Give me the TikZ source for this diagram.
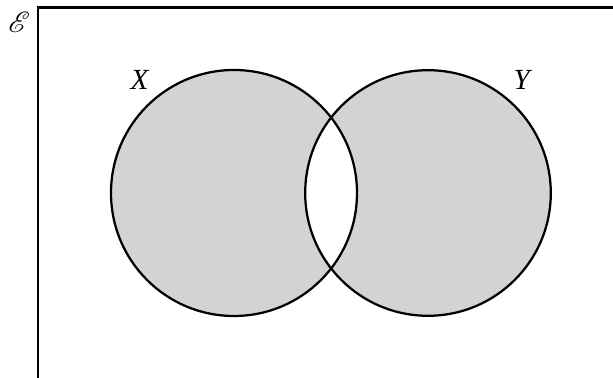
\documentclass[tikz,border=0pt]{standalone}
\usepackage{xcolor}
\usepackage{mathrsfs}
\usepackage{fontspec}
\setmainfont{Liberation Serif}
\usepackage{tikz}
\definecolor{venngray}{RGB}{209,211,212}

\begin{document}
\begin{tikzpicture}
\useasboundingbox (0,0) rectangle (15.325,9.45);
\draw[line width=2pt] (0.95,0) -- (0.95,9.2625) -- (15.325,9.2625);
\fill[fill=venngray, even odd rule] (5.85,4.625) circle (3.075) (10.7,4.625) circle (3.07);
\draw[line width=1.6pt] (5.85,4.625) circle (3.075);
\draw[line width=1.6pt] (10.7,4.625) circle (3.07);
\node (univ) at (0.48,8.88) {\huge $\mathscr{E}$};
\node (setx) at (3.5,7.45) {\huge\textit{X}};
\node (sety) at (13.075,7.45) {\huge\textit{Y}};
\end{tikzpicture}
\end{document}
